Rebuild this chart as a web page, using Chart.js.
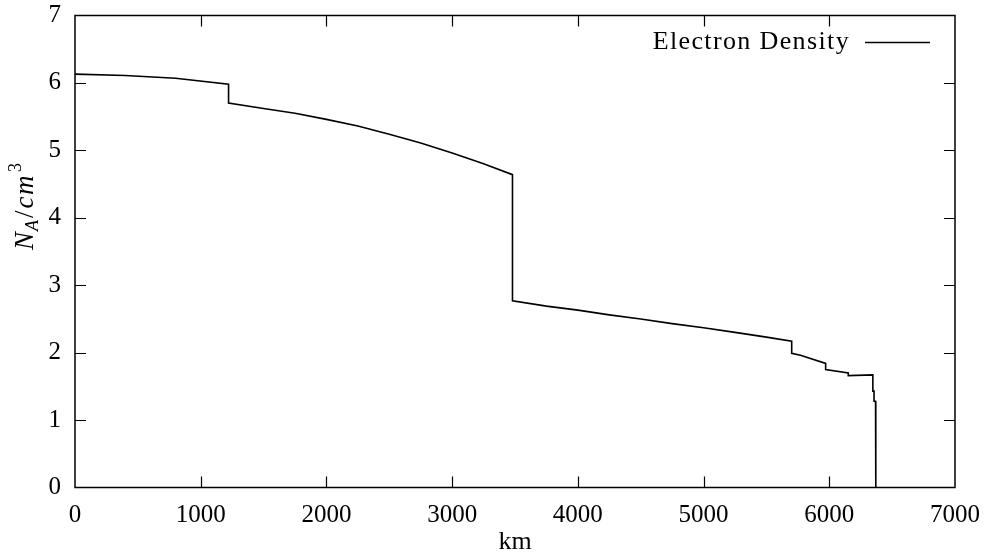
<!DOCTYPE html>
<html><head><meta charset="utf-8">
<script src="https://cdn.jsdelivr.net/npm/chart.js@4"></script>
<style>html,body{margin:0;padding:0;background:#fff;} canvas{display:block;}</style>
</head><body>
<canvas id="c" width="985" height="553"></canvas>
<script>
// ---- data ----
const radiusKm = [0, 400, 800, 1221.5, 1221.5, 1500, 1750, 2000, 2250, 2500, 2750, 3000, 3250, 3480,
  3480, 3750, 4000, 4250, 4500, 4750, 5000, 5250, 5500, 5701,
  5701, 5771, 5971, 5971, 6151, 6151, 6346.6, 6346.6, 6356, 6356, 6368, 6368, 6371, 6371];
const electronDensity = [6.13, 6.11, 6.07, 5.98, 5.70, 5.62, 5.55, 5.46, 5.36, 5.24, 5.11, 4.96, 4.80, 4.64,
  2.77, 2.69, 2.63, 2.56, 2.50, 2.43, 2.37, 2.30, 2.23, 2.17,
  1.99, 1.96, 1.84, 1.75, 1.70, 1.66, 1.67, 1.43, 1.43, 1.28, 1.28, 0.50, 0.50, 0];
const xTicks = [0, 1000, 2000, 3000, 4000, 5000, 6000, 7000];
const yTicks = [0, 1, 2, 3, 4, 5, 6, 7];
const seriesLabel = 'Electron Density';
const xTitle = 'km';

const SERIF = '"Liberation Serif", "Times New Roman", serif';

const decorPlugin = {
  id: 'decor',
  afterDatasetsDraw(chart) {
    const {ctx, chartArea: a, scales: {x, y}} = chart;
    ctx.save();
    ctx.strokeStyle = '#000';
    ctx.fillStyle = '#000';
    // frame
    ctx.lineWidth = 1.5;
    ctx.strokeRect(a.left, a.top, a.right - a.left, a.bottom - a.top);
    // inward ticks on all four sides
    const L = 11;
    ctx.lineWidth = 1.2;
    ctx.beginPath();
    xTicks.slice(1, -1).forEach(v => {
      const px = Math.round(x.getPixelForValue(v)) + 0.5;
      ctx.moveTo(px, a.bottom); ctx.lineTo(px, a.bottom - L);
      ctx.moveTo(px, a.top); ctx.lineTo(px, a.top + L);
    });
    yTicks.slice(1, -1).forEach(v => {
      const py = Math.round(y.getPixelForValue(v)) + 0.5;
      ctx.moveTo(a.left, py); ctx.lineTo(a.left + L, py);
      ctx.moveTo(a.right, py); ctx.lineTo(a.right - L, py);
    });
    ctx.stroke();

    // legend (text then line sample)
    ctx.font = '26px ' + SERIF;
    const w = ctx.measureText(seriesLabel).width;
    const targetW = 196;
    const n = seriesLabel.length - 1;
    ctx.letterSpacing = Math.max(0, (targetW - w) / n).toFixed(2) + 'px';
    ctx.textAlign = 'right';
    ctx.textBaseline = 'alphabetic';
    ctx.fillText(seriesLabel, 850, 49);
    ctx.letterSpacing = '0px';
    ctx.lineWidth = 1.5;
    ctx.beginPath();
    ctx.moveTo(865, 42.5); ctx.lineTo(930, 42.5);
    ctx.stroke();

    // x title
    ctx.font = '26px ' + SERIF;
    ctx.textAlign = 'center';
    ctx.fillText(xTitle, (a.left + a.right) / 2, 549);

    // y title: N_A / cm^3 (rotated)
    ctx.translate(33, 250);
    ctx.rotate(-Math.PI / 2);
    ctx.textAlign = 'left';
    let s = 0;
    const big = 'italic 27px ' + SERIF;
    const small = 'italic 18px ' + SERIF;
    const smallUp = '18px ' + SERIF;
    const norm = '27px ' + SERIF;
    ctx.font = big; ctx.fillText('N', s, 0); s += ctx.measureText('N').width + 1;
    ctx.font = small; ctx.fillText('A', s, 5); s += ctx.measureText('A').width + 2;
    ctx.font = norm; ctx.fillText('/', s, 0); s += ctx.measureText('/').width + 2;
    ctx.font = big; ctx.letterSpacing = '1.5px'; ctx.fillText('cm', s, 0); s += ctx.measureText('cm').width + 2;
    ctx.letterSpacing = '0px';
    ctx.font = smallUp; ctx.fillText('3', s, -12);
    ctx.restore();
  }
};

const noPad = s => { s.paddingTop = 0; s.paddingBottom = 0; s.paddingLeft = 0; s.paddingRight = 0; };

new Chart(document.getElementById('c'), {
  type: 'line',
  data: {
    datasets: [{
      label: seriesLabel,
      data: radiusKm.map((r, i) => ({x: r, y: electronDensity[i]})),
      borderColor: '#000',
      borderWidth: 1.6,
      pointRadius: 0,
      tension: 0,
      fill: false
    }]
  },
  options: {
    responsive: false,
    animation: false,
    devicePixelRatio: 1,
    layout: {padding: {top: 15.5, right: 30, left: 0, bottom: 0}},
    plugins: {legend: {display: false}, tooltip: {enabled: false}},
    scales: {
      x: {
        type: 'linear', min: 0, max: 7000,
        afterBuildTicks: s => { s.ticks = xTicks.map(v => ({value: v})); },
        afterFit: s => { s.height = 65.5; noPad(s); },
        grid: {display: false, drawTicks: false},
        border: {display: false},
        ticks: {autoSkip: false, maxRotation: 0, padding: 13, color: '#000',
                callback: v => String(v),
                font: {family: SERIF, size: 25}}
      },
      y: {
        type: 'linear', min: 0, max: 7,
        afterBuildTicks: s => { s.ticks = yTicks.map(v => ({value: v})); },
        afterFit: s => { s.width = 75; noPad(s); },
        grid: {display: false, drawTicks: false},
        border: {display: false},
        ticks: {padding: 14, color: '#000', callback: v => String(v),
                font: {family: SERIF, size: 25}}
      }
    }
  },
  plugins: [decorPlugin]
});
</script>
</body></html>
